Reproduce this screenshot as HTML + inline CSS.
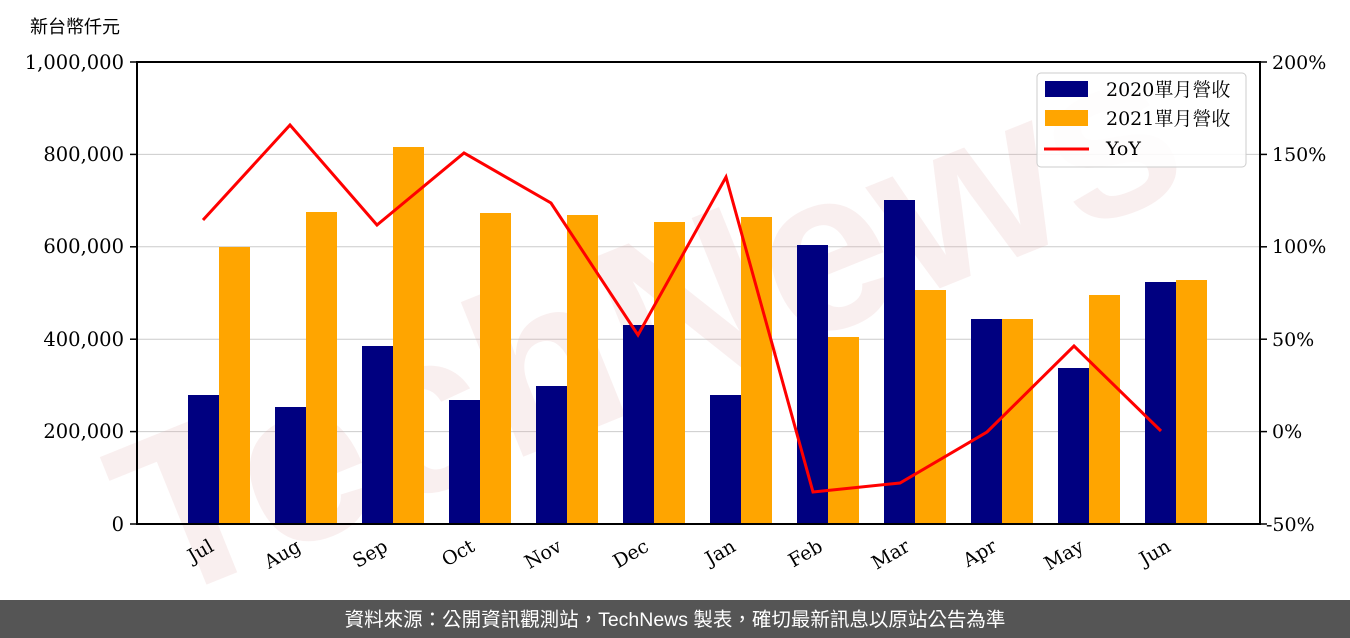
<!DOCTYPE html>
<html><head><meta charset="utf-8"><style>
body{margin:0;width:1350px;height:638px;background:#fff;overflow:hidden}
svg{display:block}
</style></head><body>
<svg width="1350" height="638" xmlns="http://www.w3.org/2000/svg" font-family="DejaVu Serif, Noto Serif CJK SC, serif">
<text x="30" y="33" font-size="18" font-family="Liberation Sans, Noto Sans CJK TC, sans-serif" fill="#000">新台幣仟元</text>
<g stroke="#ccc" stroke-width="1">
<line x1="137" x2="1260" y1="154.4" y2="154.4"/>
<line x1="137" x2="1260" y1="246.8" y2="246.8"/>
<line x1="137" x2="1260" y1="339.2" y2="339.2"/>
<line x1="137" x2="1260" y1="431.6" y2="431.6"/>
</g>
<text x="650" y="400" font-size="230" font-family="Liberation Sans, sans-serif" font-weight="bold" fill="#e0a8a8" opacity="0.18" transform="rotate(-22 650 330)" text-anchor="middle">TechNews</text>
<g fill="#000080">
<rect x="188" y="395" width="31" height="129"/>
<rect x="275" y="407" width="31" height="117"/>
<rect x="362" y="346" width="31" height="178"/>
<rect x="449" y="400" width="31" height="124"/>
<rect x="536" y="386" width="31" height="138"/>
<rect x="623" y="325" width="31" height="199"/>
<rect x="710" y="395" width="31" height="129"/>
<rect x="797" y="245" width="31" height="279"/>
<rect x="884" y="200" width="31" height="324"/>
<rect x="971" y="319" width="31" height="205"/>
<rect x="1058" y="368" width="31" height="156"/>
<rect x="1145" y="282" width="31" height="242"/>
</g>
<g fill="#ffa500">
<rect x="219" y="247" width="31" height="277"/>
<rect x="306" y="212" width="31" height="312"/>
<rect x="393" y="147" width="31" height="377"/>
<rect x="480" y="213" width="31" height="311"/>
<rect x="567" y="215" width="31" height="309"/>
<rect x="654" y="222" width="31" height="302"/>
<rect x="741" y="217" width="31" height="307"/>
<rect x="828" y="337" width="31" height="187"/>
<rect x="915" y="290" width="31" height="234"/>
<rect x="1002" y="319" width="31" height="205"/>
<rect x="1089" y="295" width="31" height="229"/>
<rect x="1176" y="280" width="31" height="244"/>
</g>
<polyline fill="none" stroke="#ff0000" stroke-width="3" points="203,220 290,125 377,225 464,153 551,203 638,335 726,177 813,492 900,483 987,432 1074,346 1161,431"/>
<rect x="137" y="62" width="1123" height="462" fill="none" stroke="#000" stroke-width="2"/>
<g stroke="#000" stroke-width="1.5">
<line x1="130" x2="137" y1="62" y2="62"/><line x1="130" x2="137" y1="154.4" y2="154.4"/><line x1="130" x2="137" y1="246.8" y2="246.8"/><line x1="130" x2="137" y1="339.2" y2="339.2"/><line x1="130" x2="137" y1="431.6" y2="431.6"/><line x1="130" x2="137" y1="524" y2="524"/>
<line x1="1260" x2="1267" y1="62" y2="62"/><line x1="1260" x2="1267" y1="154.4" y2="154.4"/><line x1="1260" x2="1267" y1="246.8" y2="246.8"/><line x1="1260" x2="1267" y1="339.2" y2="339.2"/><line x1="1260" x2="1267" y1="431.6" y2="431.6"/><line x1="1260" x2="1267" y1="524" y2="524"/>
</g>
<g font-size="19.5" text-anchor="end" fill="#000">
<text x="124" y="69">1,000,000</text><text x="124" y="161">800,000</text><text x="124" y="253">600,000</text><text x="124" y="346">400,000</text><text x="124" y="438">200,000</text><text x="124" y="531">0</text>
</g>
<g font-size="19" fill="#000">
<text x="1272" y="69">200%</text><text x="1272" y="161">150%</text><text x="1272" y="253">100%</text><text x="1272" y="346">50%</text><text x="1272" y="438">0%</text><text x="1266" y="531">-50%</text>
</g>
<g font-size="19" text-anchor="end" fill="#000">
<text transform="translate(215,550) rotate(-30)">Jul</text>
<text transform="translate(302,550) rotate(-30)">Aug</text>
<text transform="translate(389,550) rotate(-30)">Sep</text>
<text transform="translate(476,550) rotate(-30)">Oct</text>
<text transform="translate(563,550) rotate(-30)">Nov</text>
<text transform="translate(650,550) rotate(-30)">Dec</text>
<text transform="translate(737,550) rotate(-30)">Jan</text>
<text transform="translate(824,550) rotate(-30)">Feb</text>
<text transform="translate(911,550) rotate(-30)">Mar</text>
<text transform="translate(998,550) rotate(-30)">Apr</text>
<text transform="translate(1085,550) rotate(-30)">May</text>
<text transform="translate(1172,550) rotate(-30)">Jun</text>
</g>
<rect x="1037" y="73" width="209" height="94" rx="4" fill="#fff" fill-opacity="0.85" stroke="#ccc"/>
<rect x="1045" y="81" width="43" height="16" fill="#000080"/>
<rect x="1045" y="110" width="43" height="16" fill="#ffa500"/>
<line x1="1044" x2="1089" y1="149" y2="149" stroke="#ff0000" stroke-width="3"/>
<g font-size="19" fill="#000">
<text x="1106" y="96">2020單月營收</text>
<text x="1106" y="125">2021單月營收</text>
<text x="1106" y="155">YoY</text>
</g>
<rect x="0" y="600" width="1350" height="38" fill="#555"/>
<text x="675" y="626" font-size="19.5" fill="#fff" text-anchor="middle" font-family="Liberation Sans, Noto Sans CJK TC, sans-serif">資料來源：公開資訊觀測站，TechNews 製表，確切最新訊息以原站公告為準</text>
</svg>
</body></html>
